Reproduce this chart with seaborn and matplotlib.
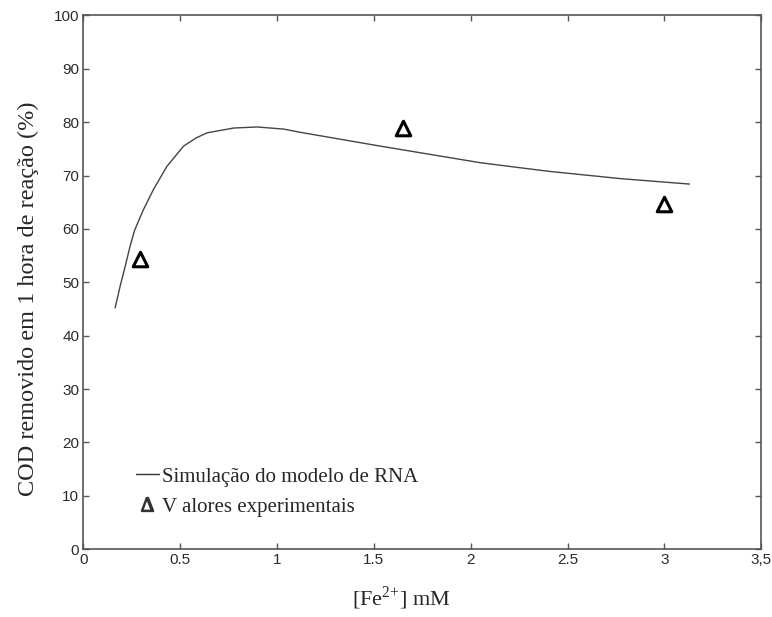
import pandas as pd
import matplotlib.pyplot as plt
import seaborn as sns
from matplotlib.lines import Line2D

# curve (RNA model simulation)
sim_fe = [0.164, 0.19, 0.216, 0.24, 0.265, 0.31, 0.362, 0.431, 0.517, 0.58,
          0.638, 0.776, 0.897, 1.035, 1.12, 1.535, 2.05, 2.4, 2.78, 3.13]
sim_cod = [45.2, 49.3, 53.0, 56.6, 59.8, 63.6, 67.4, 71.7, 75.5, 77.0,
           78.0, 78.9, 79.1, 78.7, 78.1, 75.5, 72.4, 70.8, 69.4, 68.4]

# experimental values
exp_fe = [0.29, 1.65, 3.0]
exp_cod = [54.3, 79.0, 64.7]

x_ticks = [0, 0.5, 1, 1.5, 2, 2.5, 3, 3.5]
x_tick_labels = ['0', '0.5', '1', '1.5', '2', '2.5', '3', '3,5']
y_ticks = list(range(0, 101, 10))

sim = pd.DataFrame({'fe': sim_fe, 'cod': sim_cod})
exp = pd.DataFrame({'fe': exp_fe, 'cod': exp_cod})

sns.set_style('ticks')
plt.rcParams['font.family'] = ['Liberation Sans', 'DejaVu Sans']
plt.rcParams['mathtext.fontset'] = 'custom'
plt.rcParams['mathtext.rm'] = 'Liberation Serif'

fig = plt.figure(figsize=(7.72, 6.17), dpi=100)
ax = fig.add_axes([0.108, 0.110, 0.878, 0.865])

sns.lineplot(x='fe', y='cod', data=sim, color='#444444', linewidth=1.0,
             ax=ax, sort=False)
sns.scatterplot(x='fe', y='cod', data=exp, marker='^', s=110,
                facecolor='white', edgecolor='black', linewidth=2.2, ax=ax,
                zorder=3)

ax.set_xlim(0, 3.5)
ax.set_ylim(0, 100)
ax.set_xticks(x_ticks)
ax.set_xticklabels(x_tick_labels)
ax.set_yticks(y_ticks)
ax.tick_params(direction='in', top=True, right=True, length=4, width=1,
               color='#555555', labelsize=11, labelcolor='#2a2a2a', pad=3)
for sp in ax.spines.values():
    sp.set_color('#555555')
    sp.set_linewidth(1.2)

serif = ['Liberation Serif', 'DejaVu Serif']
ax.set_xlabel(r'[Fe$^{\mathrm{2{+}}}$] mM', fontsize=16, family=serif)
ax.xaxis.set_label_coords(0.469, -0.066)
ax.set_ylabel('COD removido em 1 hora de reação (%)', fontsize=17.5,
              family=serif)
ax.yaxis.set_label_coords(-0.066, 0.47)

handles = [
    Line2D([], [], color='#333333', linewidth=1.0),
    Line2D([], [], marker=r'$\Delta$', color='#333333', linestyle='',
           markersize=10),
]
ax.legend(handles, ['Simulação do modelo de RNA', 'V alores experimentais'],
          loc='lower left', bbox_to_anchor=(0.05, 0.026), frameon=False,
          handlelength=1.1, handletextpad=0.15, labelspacing=0.5,
          prop={'family': serif, 'size': 15})

fig.savefig('out.png', dpi=100)
